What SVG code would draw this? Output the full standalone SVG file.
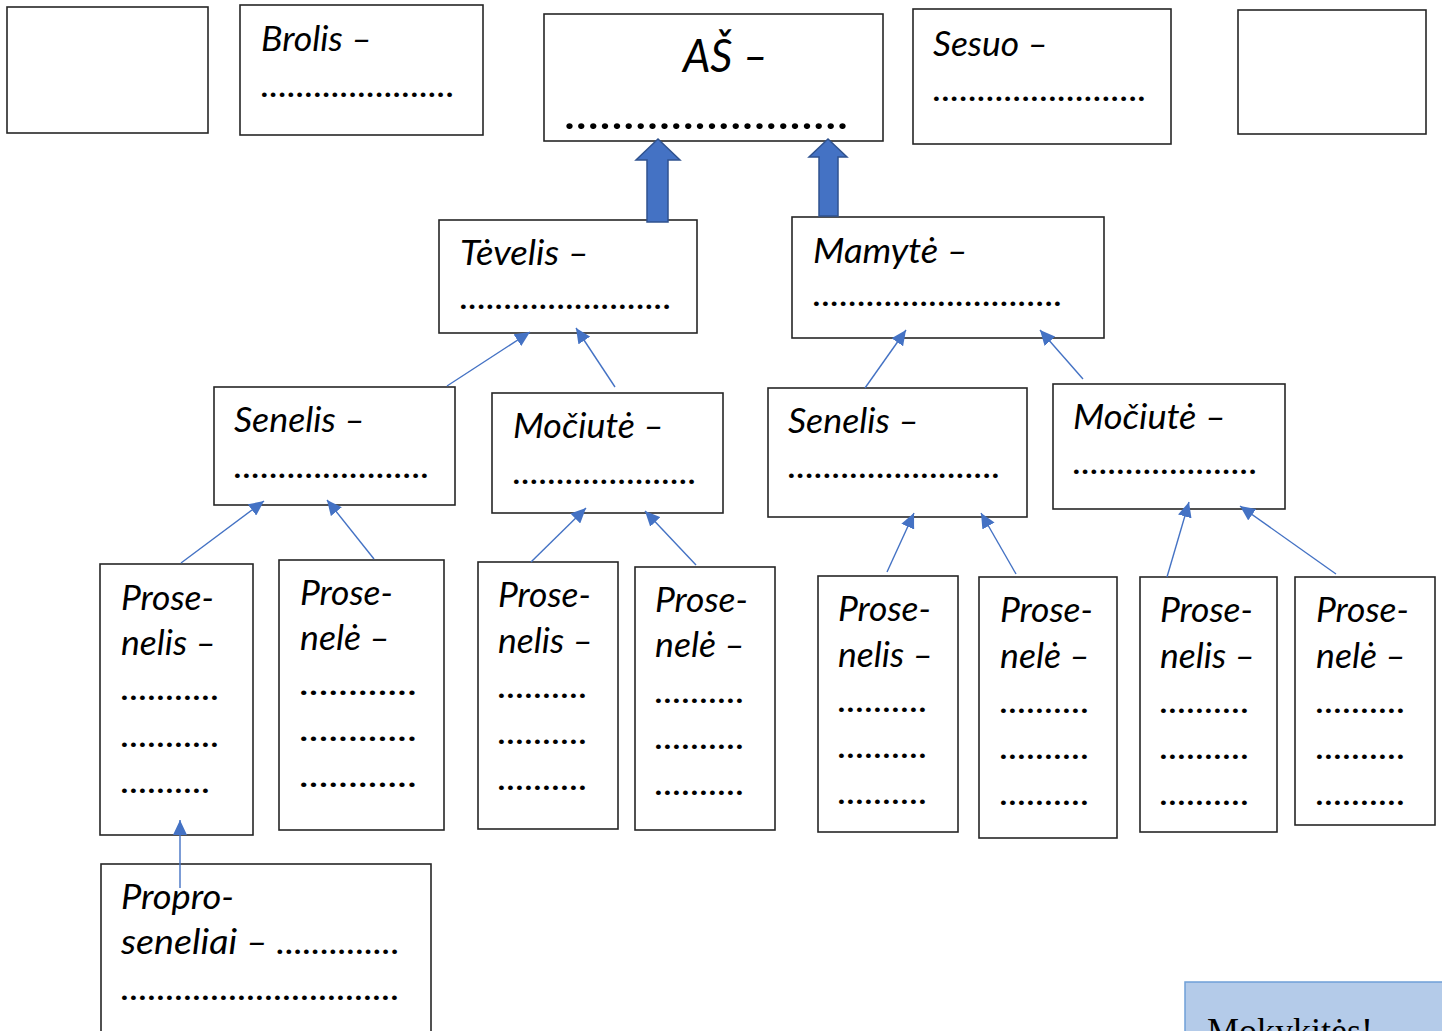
<svg xmlns="http://www.w3.org/2000/svg" width="1442" height="1031" viewBox="0 0 1442 1031">
<style>
.box{fill:#fff;stroke:#262626;stroke-width:1.6}
.t{font-family:"Lato","Open Sans",sans-serif;font-style:italic;font-size:35px;fill:#000}
.big{font-size:46px}
.con{stroke:#4472C4;stroke-width:1.4;fill:none;marker-end:url(#ah)}
.blk{fill:#4472C4;stroke:#2F528F;stroke-width:1.5}
</style>
<defs>
<marker id="ah" markerUnits="userSpaceOnUse" markerWidth="16" markerHeight="14" refX="15" refY="7" orient="auto">
<path d="M0,0 L15,7 L0,14 Z" fill="#4472C4"/>
</marker>
</defs>
<rect width="1442" height="1031" fill="#fff"/>

<g id="empty-left"><rect class="box" x="7" y="7" width="201" height="126"/></g>
<g id="brolis"><rect class="box" x="240" y="5" width="243" height="130"/>
<text class="t" x="261" y="51" textLength="111" lengthAdjust="spacingAndGlyphs">Brolis –</text>
<text class="t" x="261" y="97" textLength="194" lengthAdjust="spacingAndGlyphs">......................</text></g>
<g id="as"><rect class="box" x="544" y="14" width="339" height="127"/>
<text class="t big" x="683" y="72" textLength="85" lengthAdjust="spacingAndGlyphs">AŠ –</text>
<text class="t big" x="565" y="129" textLength="285" lengthAdjust="spacingAndGlyphs">........................</text></g>
<g id="sesuo"><rect class="box" x="913" y="9" width="258" height="135"/>
<text class="t" x="933" y="56" textLength="115" lengthAdjust="spacingAndGlyphs">Sesuo –</text>
<text class="t" x="933" y="101" textLength="214" lengthAdjust="spacingAndGlyphs">........................</text></g>
<g id="empty-right"><rect class="box" x="1238" y="10" width="188" height="124"/></g>

<g id="tevelis"><rect class="box" x="439" y="220" width="258" height="113"/>
<text class="t" x="460" y="265" textLength="129" lengthAdjust="spacingAndGlyphs">Tėvelis –</text>
<text class="t" x="460" y="309" textLength="212" lengthAdjust="spacingAndGlyphs">........................</text></g>
<g id="mamyte"><rect class="box" x="792" y="217" width="312" height="121"/>
<text class="t" x="813" y="263" textLength="155" lengthAdjust="spacingAndGlyphs">Mamytė –</text>
<text class="t" x="813" y="306" textLength="250" lengthAdjust="spacingAndGlyphs">............................</text></g>

<g id="senelis-l"><rect class="box" x="214" y="387" width="241" height="118"/>
<text class="t" x="234" y="432" textLength="131" lengthAdjust="spacingAndGlyphs">Senelis –</text>
<text class="t" x="234" y="478" textLength="196" lengthAdjust="spacingAndGlyphs">......................</text></g>
<g id="mociute-l"><rect class="box" x="492" y="393" width="231" height="120"/>
<text class="t" x="513" y="438" textLength="151" lengthAdjust="spacingAndGlyphs">Močiutė –</text>
<text class="t" x="513" y="484" textLength="184" lengthAdjust="spacingAndGlyphs">.....................</text></g>
<g id="senelis-r"><rect class="box" x="768" y="388" width="259" height="129"/>
<text class="t" x="788" y="433" textLength="131" lengthAdjust="spacingAndGlyphs">Senelis –</text>
<text class="t" x="788" y="478" textLength="213" lengthAdjust="spacingAndGlyphs">........................</text></g>
<g id="mociute-r"><rect class="box" x="1053" y="384" width="232" height="125"/>
<text class="t" x="1073" y="429" textLength="153" lengthAdjust="spacingAndGlyphs">Močiutė –</text>
<text class="t" x="1073" y="474" textLength="185" lengthAdjust="spacingAndGlyphs">.....................</text></g>

<g id="prose1"><rect class="box" x="100" y="564" width="153" height="271"/>
<text class="t" x="121" y="610" textLength="93" lengthAdjust="spacingAndGlyphs">Prose-</text>
<text class="t" x="121" y="655" textLength="95" lengthAdjust="spacingAndGlyphs">nelis –</text>
<text class="t" x="121" y="700" textLength="99" lengthAdjust="spacingAndGlyphs">...........</text>
<text class="t" x="121" y="747" textLength="99" lengthAdjust="spacingAndGlyphs">...........</text>
<text class="t" x="121" y="793" textLength="90" lengthAdjust="spacingAndGlyphs">..........</text></g>
<g id="prose2"><rect class="box" x="279" y="560" width="165" height="270"/>
<text class="t" x="300" y="605" textLength="93" lengthAdjust="spacingAndGlyphs">Prose-</text>
<text class="t" x="300" y="650" textLength="90" lengthAdjust="spacingAndGlyphs">nelė –</text>
<text class="t" x="300" y="695" textLength="118" lengthAdjust="spacingAndGlyphs">............</text>
<text class="t" x="300" y="741" textLength="118" lengthAdjust="spacingAndGlyphs">............</text>
<text class="t" x="300" y="787" textLength="118" lengthAdjust="spacingAndGlyphs">............</text></g>
<g id="prose3"><rect class="box" x="478" y="562" width="140" height="267"/>
<text class="t" x="498" y="607" textLength="93" lengthAdjust="spacingAndGlyphs">Prose-</text>
<text class="t" x="498" y="653" textLength="95" lengthAdjust="spacingAndGlyphs">nelis –</text>
<text class="t" x="498" y="698" textLength="90" lengthAdjust="spacingAndGlyphs">..........</text>
<text class="t" x="498" y="744" textLength="90" lengthAdjust="spacingAndGlyphs">..........</text>
<text class="t" x="498" y="790" textLength="90" lengthAdjust="spacingAndGlyphs">..........</text></g>
<g id="prose4"><rect class="box" x="635" y="567" width="140" height="263"/>
<text class="t" x="655" y="612" textLength="93" lengthAdjust="spacingAndGlyphs">Prose-</text>
<text class="t" x="655" y="657" textLength="90" lengthAdjust="spacingAndGlyphs">nelė –</text>
<text class="t" x="655" y="703" textLength="90" lengthAdjust="spacingAndGlyphs">..........</text>
<text class="t" x="655" y="749" textLength="90" lengthAdjust="spacingAndGlyphs">..........</text>
<text class="t" x="655" y="795" textLength="90" lengthAdjust="spacingAndGlyphs">..........</text></g>
<g id="prose5"><rect class="box" x="818" y="576" width="140" height="256"/>
<text class="t" x="838" y="621" textLength="93" lengthAdjust="spacingAndGlyphs">Prose-</text>
<text class="t" x="838" y="667" textLength="95" lengthAdjust="spacingAndGlyphs">nelis –</text>
<text class="t" x="838" y="712" textLength="90" lengthAdjust="spacingAndGlyphs">..........</text>
<text class="t" x="838" y="758" textLength="90" lengthAdjust="spacingAndGlyphs">..........</text>
<text class="t" x="838" y="804" textLength="90" lengthAdjust="spacingAndGlyphs">..........</text></g>
<g id="prose6"><rect class="box" x="979" y="577" width="138" height="261"/>
<text class="t" x="1000" y="622" textLength="93" lengthAdjust="spacingAndGlyphs">Prose-</text>
<text class="t" x="1000" y="668" textLength="90" lengthAdjust="spacingAndGlyphs">nelė –</text>
<text class="t" x="1000" y="713" textLength="90" lengthAdjust="spacingAndGlyphs">..........</text>
<text class="t" x="1000" y="759" textLength="90" lengthAdjust="spacingAndGlyphs">..........</text>
<text class="t" x="1000" y="805" textLength="90" lengthAdjust="spacingAndGlyphs">..........</text></g>
<g id="prose7"><rect class="box" x="1140" y="577" width="137" height="255"/>
<text class="t" x="1160" y="622" textLength="93" lengthAdjust="spacingAndGlyphs">Prose-</text>
<text class="t" x="1160" y="668" textLength="95" lengthAdjust="spacingAndGlyphs">nelis –</text>
<text class="t" x="1160" y="713" textLength="90" lengthAdjust="spacingAndGlyphs">..........</text>
<text class="t" x="1160" y="759" textLength="90" lengthAdjust="spacingAndGlyphs">..........</text>
<text class="t" x="1160" y="805" textLength="90" lengthAdjust="spacingAndGlyphs">..........</text></g>
<g id="prose8"><rect class="box" x="1295" y="577" width="140" height="248"/>
<text class="t" x="1316" y="622" textLength="93" lengthAdjust="spacingAndGlyphs">Prose-</text>
<text class="t" x="1316" y="668" textLength="90" lengthAdjust="spacingAndGlyphs">nelė –</text>
<text class="t" x="1316" y="713" textLength="90" lengthAdjust="spacingAndGlyphs">..........</text>
<text class="t" x="1316" y="759" textLength="90" lengthAdjust="spacingAndGlyphs">..........</text>
<text class="t" x="1316" y="805" textLength="90" lengthAdjust="spacingAndGlyphs">..........</text></g>

<g id="proproseneliai"><rect class="box" x="101" y="864" width="330" height="180"/>
<text class="t" x="121" y="909" textLength="113" lengthAdjust="spacingAndGlyphs">Propro-</text>
<text class="t" x="121" y="954" textLength="279" lengthAdjust="spacingAndGlyphs">seneliai – ..............</text>
<text class="t" x="121" y="1000" textLength="279" lengthAdjust="spacingAndGlyphs">...............................</text></g>

<g id="mokykites"><rect x="1185" y="982" width="270" height="80" fill="#B4CBE9" stroke="#6FA0D8" stroke-width="1.5"/>
<text x="1207" y="1043" font-family="'Liberation Serif',serif" font-size="36" fill="#000">Mokykitės!</text></g>

<g id="connectors">
<polygon class="blk" points="647,222 668,222 668,160 680,160 658,139 636,160 647,160"/>
<polygon class="blk" points="819,216 838,216 838,157 847,157 828,139 809,157 819,157"/>
<line class="con" x1="447" y1="386" x2="530" y2="332"/>
<line class="con" x1="615" y1="387" x2="576" y2="328"/>
<line class="con" x1="865" y1="388" x2="906" y2="330"/>
<line class="con" x1="1083" y1="379" x2="1040" y2="330"/>
<line class="con" x1="181" y1="563" x2="264" y2="501"/>
<line class="con" x1="374" y1="559" x2="327" y2="500"/>
<line class="con" x1="531" y1="562" x2="586" y2="508"/>
<line class="con" x1="696" y1="565" x2="645" y2="511"/>
<line class="con" x1="887" y1="572" x2="914" y2="513"/>
<line class="con" x1="1016" y1="574" x2="981" y2="513"/>
<line class="con" x1="1167" y1="577" x2="1189" y2="502"/>
<line class="con" x1="1336" y1="574" x2="1240" y2="506"/>
<line class="con" x1="180" y1="888" x2="180" y2="820"/>
</g>
</svg>
